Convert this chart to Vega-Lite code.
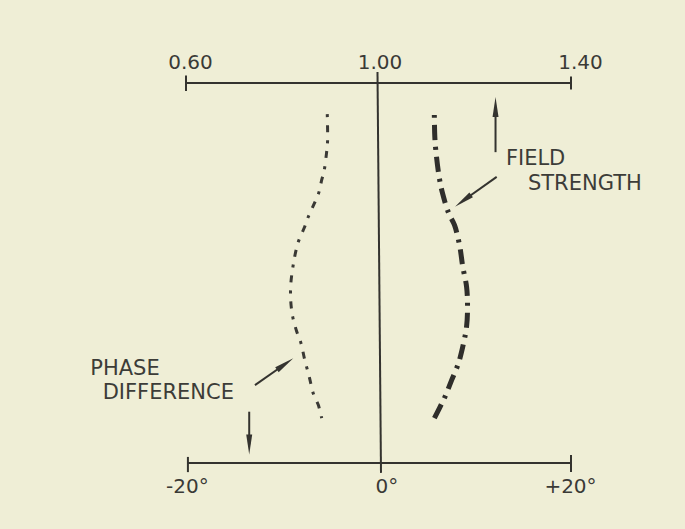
{
  "$schema": "https://vega.github.io/schema/vega-lite/v6.json",
  "width": 385,
  "height": 380,
  "autosize": {"type": "none"},
  "padding": {"left": 186, "top": 83, "right": 114, "bottom": 66},
  "background": "#efeed6",
  "config": {
    "view": {"stroke": null},
    "axis": {
      "domain": false, "ticks": false, "tickSize": 0, "grid": false,
      "labelFont": "DejaVu Sans", "labelFontSize": 20, "labelColor": "#3a3a36",
      "labelFlush": false, "labelOverlap": false, "title": null
    }
  },
  "datasets": {
    "field": [
      {"i": 1, "f": 1.116, "h": 91.6},
      {"i": 2, "f": 1.117, "h": 85.9},
      {"i": 3, "f": 1.119, "h": 82.4},
      {"i": 4, "f": 1.126, "h": 75.3},
      {"i": 5, "f": 1.133, "h": 71.0},
      {"i": 6, "f": 1.146, "h": 65.7},
      {"i": 7, "f": 1.158, "h": 62.6},
      {"i": 8, "f": 1.169, "h": 56.9},
      {"i": 9, "f": 1.175, "h": 51.7},
      {"i": 10, "f": 1.183, "h": 46.4},
      {"i": 11, "f": 1.185, "h": 41.1},
      {"i": 12, "f": 1.183, "h": 35.9},
      {"i": 13, "f": 1.176, "h": 31.1},
      {"i": 14, "f": 1.166, "h": 26.2},
      {"i": 15, "f": 1.152, "h": 21.8},
      {"i": 16, "f": 1.138, "h": 17.4},
      {"i": 17, "f": 1.128, "h": 14.8},
      {"i": 18, "f": 1.116, "h": 11.8}
    ],
    "phase": [
      {"i": 1, "p": -5.45, "h": 91.8},
      {"i": 2, "p": -5.42, "h": 84.6},
      {"i": 3, "p": -5.55, "h": 81.1},
      {"i": 4, "p": -5.79, "h": 76.7},
      {"i": 5, "p": -6.03, "h": 74.5},
      {"i": 6, "p": -6.30, "h": 71.4},
      {"i": 7, "p": -6.80, "h": 68.3},
      {"i": 8, "p": -7.43, "h": 64.8},
      {"i": 9, "p": -7.85, "h": 61.9},
      {"i": 10, "p": -8.47, "h": 58.2},
      {"i": 11, "p": -8.82, "h": 54.7},
      {"i": 12, "p": -9.06, "h": 51.2},
      {"i": 13, "p": -9.25, "h": 47.3},
      {"i": 14, "p": -9.27, "h": 42.9},
      {"i": 15, "p": -9.06, "h": 38.5},
      {"i": 16, "p": -8.64, "h": 34.6},
      {"i": 17, "p": -8.19, "h": 31.5},
      {"i": 18, "p": -7.80, "h": 27.1},
      {"i": 19, "p": -7.33, "h": 22.7},
      {"i": 20, "p": -6.91, "h": 18.3},
      {"i": 21, "p": -6.39, "h": 15.3},
      {"i": 22, "p": -6.03, "h": 11.8}
    ],
    "topAxis": [{"f": 0.6, "f2": 1.4, "h": 100}],
    "topTicks": [
      {"f": 0.6, "h": 102.0, "h2": 97.9},
      {"f": 1.4, "h": 101.7, "h2": 98.3}
    ],
    "centerLine": [{"f": 0.9979, "f2": 1.0052, "h": 102.9, "h2": -2.6}],
    "bottomAxis": [{"p": -20, "p2": 20, "h": 0}],
    "bottomTicks": [
      {"p": -20, "h": 1.6, "h2": -2.4},
      {"p": 20, "h": 2.1, "h2": -2.4}
    ],
    "arrows": [
      {"p": 12.12, "h": 81.8, "p2": 12.12, "h2": 93.7},
      {"p": 12.24, "h": 75.3, "p2": 8.73, "h2": 69.0},
      {"p": -13.0, "h": 20.5, "p2": -9.85, "h2": 26.05},
      {"p": -13.6, "h": 13.5, "p2": -13.6, "h2": 4.9}
    ],
    "heads": [
      {"p": 12.12, "h": 93.7, "ang": 0},
      {"p": 8.73, "h": 69.0, "ang": 234},
      {"p": -9.85, "h": 26.05, "ang": 55},
      {"p": -13.6, "h": 4.9, "ang": 180}
    ],
    "labels": [
      {"p": -30.2, "h": 24.8, "t": "PHASE"},
      {"p": -28.9, "h": 18.4, "t": "DIFFERENCE"},
      {"p": 13.2, "h": 80.0, "t": "FIELD"},
      {"p": 15.5, "h": 73.5, "t": "STRENGTH"}
    ]
  },
  "layer": [
    {
      "encoding": {
        "x": {
          "field": "f", "type": "quantitative",
          "scale": {"domain": [0.6, 1.4], "nice": false, "zero": false},
          "axis": {
            "orient": "top", "values": [0.6, 1.0, 1.4], "format": ".2f",
            "labelPadding": 11,
            "labelOffset": {
              "condition": [
                {"test": "datum.value == 1.4", "value": 9},
                {"test": "datum.value == 0.6", "value": 4}
              ],
              "value": 1
            }
          }
        },
        "y": {
          "field": "h", "type": "quantitative",
          "scale": {"domain": [0, 100], "nice": false, "zero": false},
          "axis": null
        }
      },
      "layer": [
        {
          "data": {"name": "topAxis"},
          "mark": {"type": "rule", "color": "#34332f", "strokeWidth": 2},
          "encoding": {"x2": {"field": "f2"}}
        },
        {
          "data": {"name": "topTicks"},
          "mark": {"type": "rule", "color": "#34332f", "strokeWidth": 2},
          "encoding": {"y2": {"field": "h2"}}
        },
        {
          "data": {"name": "centerLine"},
          "mark": {"type": "rule", "color": "#34332f", "strokeWidth": 2},
          "encoding": {"x2": {"field": "f2"}, "y2": {"field": "h2"}}
        },
        {
          "data": {"name": "field"},
          "mark": {"type": "line", "color": "#2f2e2b", "strokeWidth": 5, "interpolate": "catmull-rom", "strokeDash": [3, 7, 15, 7], "strokeCap": "butt"},
          "encoding": {"order": {"field": "i", "type": "quantitative"}}
        }
      ]
    },
    {
      "encoding": {
        "x": {
          "field": "p", "type": "quantitative",
          "scale": {"domain": [-20.2, 20], "nice": false, "zero": false},
          "axis": {
            "orient": "bottom", "values": [-20, 0, 20],
            "labelExpr": "datum.value < 0 ? '-20°' : (datum.value > 0 ? '+20°' : '0°')",
            "labelPadding": 13,
            "labelOffset": {
              "condition": {"test": "datum.value == 0", "value": 7},
              "value": -1
            }
          }
        },
        "y": {
          "field": "h", "type": "quantitative",
          "scale": {"domain": [0, 100], "nice": false, "zero": false},
          "axis": null
        }
      },
      "layer": [
        {
          "data": {"name": "bottomAxis"},
          "mark": {"type": "rule", "color": "#34332f", "strokeWidth": 2},
          "encoding": {"x2": {"field": "p2"}}
        },
        {
          "data": {"name": "bottomTicks"},
          "mark": {"type": "rule", "color": "#34332f", "strokeWidth": 2},
          "encoding": {"y2": {"field": "h2"}}
        },
        {
          "data": {"name": "phase"},
          "mark": {"type": "line", "color": "#3a3935", "strokeWidth": 3, "interpolate": "catmull-rom", "strokeDash": [3, 8, 7, 8], "strokeCap": "butt"},
          "encoding": {"order": {"field": "i", "type": "quantitative"}}
        },
        {
          "data": {"name": "arrows"},
          "mark": {"type": "rule", "color": "#34332f", "strokeWidth": 2},
          "encoding": {"x2": {"field": "p2"}, "y2": {"field": "h2"}}
        },
        {
          "data": {"name": "heads"},
          "mark": {"type": "point", "filled": true, "color": "#34332f", "opacity": 1, "shape": "M0,-1L0.3,1L-0.3,1Z", "size": 400},
          "encoding": {"angle": {"field": "ang", "type": "quantitative", "scale": null}}
        },
        {
          "data": {"name": "labels"},
          "mark": {"type": "text", "align": "left", "baseline": "middle", "font": "DejaVu Sans", "fontSize": 21, "color": "#3c3c38"},
          "encoding": {"text": {"field": "t"}}
        }
      ]
    }
  ],
  "resolve": {"scale": {"x": "independent"}, "axis": {"x": "independent"}}
}
